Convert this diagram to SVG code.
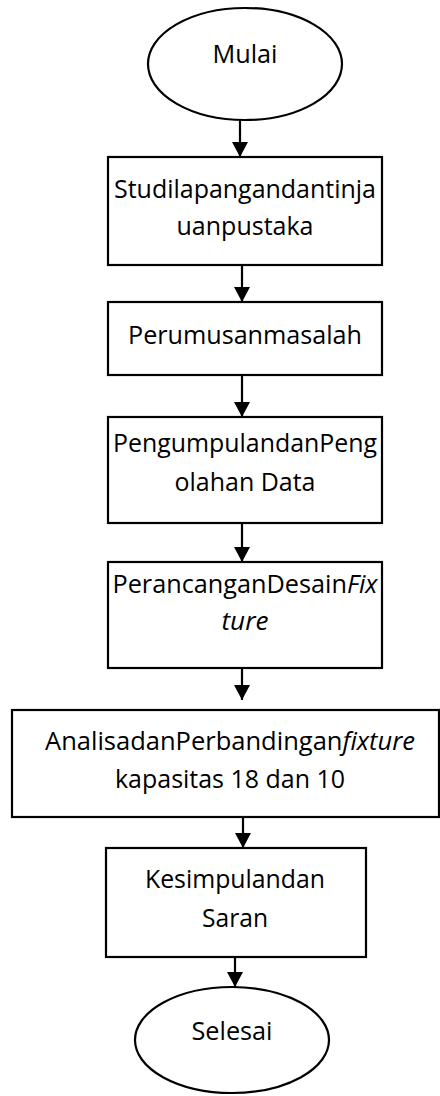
<svg xmlns="http://www.w3.org/2000/svg" width="440" height="1096" viewBox="0 0 440 1096">
<style>
.shape{fill:#fff;stroke:#000;stroke-width:2.2}
.conn{stroke:#000;stroke-width:2.2;fill:none}
text{font-family:"Open Sans",Lato,"Noto Sans",sans-serif;font-size:25px;fill:#000;text-anchor:middle}
.it{font-style:italic}
</style>
<defs>
<marker id="ah" markerUnits="userSpaceOnUse" markerWidth="16" markerHeight="16" viewBox="0 0 16 16" refX="15" refY="8" orient="auto">
<path d="M0,0 L15,8 L0,16 Z" fill="#000"/>
</marker>
</defs>
<g id="connectors">
<path class="conn" d="M240,120 V157" marker-end="url(#ah)"/>
<path class="conn" d="M242,265 V302" marker-end="url(#ah)"/>
<path class="conn" d="M242,375 V417" marker-end="url(#ah)"/>
<path class="conn" d="M242,523 V562" marker-end="url(#ah)"/>
<path class="conn" d="M242,668 V700" marker-end="url(#ah)"/>
<path class="conn" d="M243,817 V848" marker-end="url(#ah)"/>
<path class="conn" d="M235,957 V987" marker-end="url(#ah)"/>
</g>
<g id="mulai">
<ellipse class="shape" cx="245" cy="64" rx="97" ry="56"/>
<text x="245" y="63" textLength="65" lengthAdjust="spacingAndGlyphs">Mulai</text>
</g>
<g id="studi">
<rect class="shape" x="108" y="157" width="274" height="108"/>
<text x="245" y="198" textLength="262" lengthAdjust="spacingAndGlyphs">Studilapangandantinja</text>
<text x="245" y="235" textLength="137" lengthAdjust="spacingAndGlyphs">uanpustaka</text>
</g>
<g id="perumusan">
<rect class="shape" x="108" y="302" width="274" height="73"/>
<text x="245" y="344" textLength="234" lengthAdjust="spacingAndGlyphs">Perumusanmasalah</text>
</g>
<g id="pengumpulan">
<rect class="shape" x="108" y="417" width="274" height="106"/>
<text x="245" y="452" textLength="264" lengthAdjust="spacingAndGlyphs">PengumpulandanPeng</text>
<text x="245" y="491" textLength="141" lengthAdjust="spacingAndGlyphs">olahan Data</text>
</g>
<g id="perancangan">
<rect class="shape" x="108" y="562" width="274" height="106"/>
<text x="245" y="593" textLength="265" lengthAdjust="spacingAndGlyphs">PerancanganDesain<tspan class="it">Fix</tspan></text>
<text x="245" y="630" class="it" textLength="47" lengthAdjust="spacingAndGlyphs">ture</text>
</g>
<g id="analisa">
<rect class="shape" x="12" y="710" width="427" height="107"/>
<text x="230" y="750" textLength="370" lengthAdjust="spacingAndGlyphs">AnalisadanPerbandingan<tspan class="it">fixture</tspan></text>
<text x="230" y="788" textLength="230" lengthAdjust="spacingAndGlyphs">kapasitas 18 dan 10</text>
</g>
<g id="kesimpulan">
<rect class="shape" x="106" y="848" width="260" height="109"/>
<text x="235" y="888" textLength="180" lengthAdjust="spacingAndGlyphs">Kesimpulandan</text>
<text x="235" y="927" textLength="66" lengthAdjust="spacingAndGlyphs">Saran</text>
</g>
<g id="selesai">
<ellipse class="shape" cx="232" cy="1040" rx="97" ry="53"/>
<text x="232" y="1040" textLength="81" lengthAdjust="spacingAndGlyphs">Selesai</text>
</g>
</svg>
